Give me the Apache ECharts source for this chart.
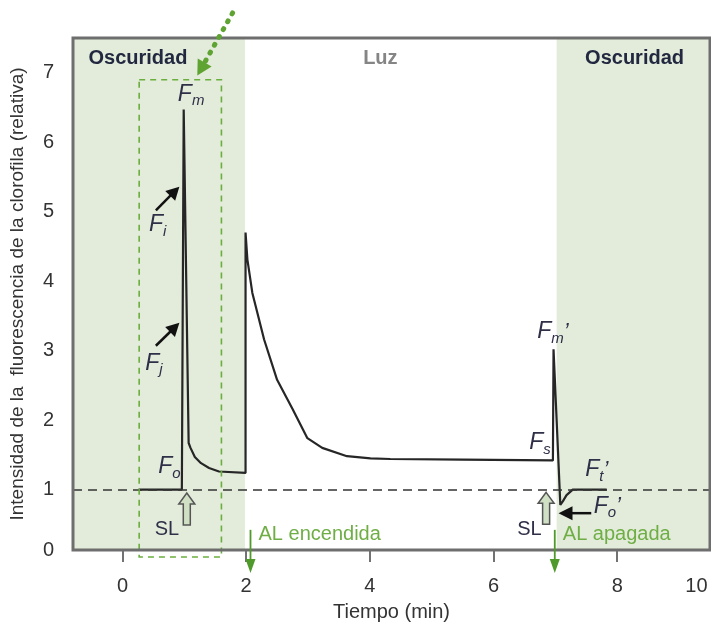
<!DOCTYPE html>
<html>
<head>
<meta charset="utf-8">
<script src="https://cdn.jsdelivr.net/npm/echarts@6/dist/echarts.min.js"></script>
<style>
  html, body { margin: 0; padding: 0; background: #fff; }
  #chart { width: 711px; height: 634px; }
</style>
</head>
<body>
<div id="chart"></div>
<script>
// curva de fluorescencia
const time = [0.26, 0.96, 0.99, 1.07, 1.10, 1.17, 1.27, 1.40, 1.56, 1.99, 1.99, 2.02, 2.10, 2.29, 2.50, 2.75, 2.99, 3.23, 3.63, 4.01, 4.33, 5.50, 6.96, 6.97, 7.08, 7.12, 7.18, 7.28, 7.34, 7.83];
const fluor = [1.0, 1.0, 6.47, 1.67, 1.60, 1.47, 1.38, 1.31, 1.26, 1.24, 4.70, 4.31, 3.83, 3.16, 2.58, 2.16, 1.74, 1.60, 1.48, 1.45, 1.44, 1.43, 1.42, 3.02, 0.78, 0.83, 0.92, 1.0, 1.0, 1.0];

// fases oscuridad / luz
const phaseName = ['Oscuridad', 'Luz', 'Oscuridad'];
const phaseStart = [-0.8, 1.98, 7.02];
const phaseEnd = [1.98, 7.02, 9.5];

const xTicks = [0, 2, 4, 6, 8];
const yTicks = [1, 2, 3, 4, 5, 6, 7];
const xMin = -0.8, xMax = 9.5, yMin = 0.13, yMax = 7.5;

const FONT = '"Liberation Sans", Arial, sans-serif';
const shade = '#e3ecdb';
const green = '#6aae3e';
const ink = '#2f2f48';

const chart = echarts.init(document.getElementById('chart'));

const areas = [];
phaseName.forEach((n, i) => {
  if (n === 'Oscuridad') areas.push([{ xAxis: phaseStart[i] }, { xAxis: phaseEnd[i] }]);
});

chart.setOption({
  animation: false,
  backgroundColor: '#fff',
  textStyle: { fontFamily: FONT },
  grid: { left: 72, right: 1, top: 38, bottom: 84 },
  xAxis: {
    type: 'value', min: xMin, max: xMax,
    name: 'Tiempo (min)', nameLocation: 'middle', nameGap: 52,
    nameTextStyle: { fontSize: 20, color: '#333' },
    axisLine: { show: false },
    axisTick: { show: true, customValues: xTicks, length: 12, lineStyle: { color: '#444', width: 1.5 } },
    axisLabel: { customValues: xTicks, fontSize: 20, color: '#333', margin: 26 },
    splitLine: { show: false }
  },
  yAxis: {
    type: 'value', min: yMin, max: yMax,
    name: 'Intensidad de la  fluorescencia de la clorofila (relativa)',
    nameLocation: 'middle', nameGap: 46,
    nameTextStyle: { fontSize: 19, color: '#333' },
    axisLine: { show: false },
    axisTick: { show: true, customValues: yTicks, length: 15, lineStyle: { color: '#444', width: 1.5 } },
    axisLabel: { customValues: [yMin].concat(yTicks), formatter: v => Math.round(v), fontSize: 20, color: '#333', margin: 19 },
    splitLine: { show: false }
  },
  series: [{
    type: 'line',
    data: time.map((t, i) => [t, fluor[i]]),
    symbol: 'none',
    lineStyle: { color: '#262626', width: 2.2 },
    z: 3,
    markArea: { silent: true, itemStyle: { color: shade }, data: areas },
    markLine: {
      silent: true, symbol: 'none', label: { show: false },
      lineStyle: { color: '#333', width: 1.5, type: [9, 6] },
      data: [{ yAxis: 1 }]
    }
  }]
});

// anotaciones en coordenadas de datos
const px = (x, y) => chart.convertToPixel({ gridIndex: 0 }, [x, y]);
const g = [];

function arrow(a, b, color, w, hl, hw, dash) {
  const [x1, y1] = px(a[0], a[1]);
  const [x2, y2] = px(b[0], b[1]);
  const dx = x2 - x1, dy = y2 - y1, L = Math.hypot(dx, dy);
  const ux = dx / L, uy = dy / L;
  const bx = x2 - ux * hl, by = y2 - uy * hl;
  g.push({ type: 'line', z: 20, shape: { x1, y1, x2: bx + ux * 2, y2: by + uy * 2 },
    style: { stroke: color, lineWidth: w, lineDash: dash || null, lineCap: dash ? 'round' : 'butt' } });
  g.push({ type: 'polygon', z: 20, shape: { points: [[x2, y2], [bx - uy * hw, by + ux * hw], [bx + uy * hw, by - ux * hw]] },
    style: { fill: color } });
}

function label(x, y, rich, align) {
  const [X, Y] = px(x, y);
  g.push({ type: 'text', z: 20, x: X, y: Y, style: Object.assign({ align: align || 'center', verticalAlign: 'middle' }, rich) });
}

function fLabel(x, y, sub, prime) {
  label(x, y, {
    text: '{f|F}{s|' + sub + '}' + (prime ? '{p|\u2019}' : ''),
    rich: {
      f: { fontSize: 23, fontStyle: 'italic', fill: ink, fontFamily: FONT },
      s: { fontSize: 15, fontStyle: 'italic', fill: ink, fontFamily: FONT, padding: [14, 0, 0, 0] },
      p: { fontSize: 22, fontStyle: 'italic', fill: ink, fontFamily: FONT }
    }
  });
}

function slArrow(x, y) {
  const [X, Y] = px(x, y);
  const pts = [[0, -16], [8, -5], [3.5, -5], [3.5, 16], [-3.5, 16], [-3.5, -5], [-8, -5]].map(p => [X + p[0], Y + p[1]]);
  g.push({ type: 'polygon', z: 20, shape: { points: pts }, style: { fill: '#cfe0c4', stroke: '#555', lineWidth: 1.5 } });
}

// marco del gráfico
{
  const [ax, ay] = px(xMin, yMax);
  const [bx, by] = px(xMax, yMin);
  g.push({ type: 'rect', z: 18, shape: { x: ax, y: ay, width: bx - ax, height: by - ay },
    style: { fill: null, stroke: '#6e6e6e', lineWidth: 3 } });
}

// títulos de fase
phaseName.forEach((n, i) => {
  const mid = n === 'Luz' ? 4.17 : (i === 0 ? 0.25 : 8.28);
  label(mid, 7.2, { text: n, fontSize: 20, fontWeight: 'bold', fill: n === 'Luz' ? '#858585' : '#22283f', fontFamily: FONT });
});

// rectángulo verde discontinuo y flecha punteada
{
  const [ax, ay] = px(0.27, 6.9);
  const [bx, by] = px(1.60, 0.03);
  g.push({ type: 'rect', z: 15, shape: { x: ax, y: ay, width: bx - ax, height: by - ay },
    style: { fill: null, stroke: green, lineWidth: 1.6, lineDash: [6, 5] } });
}
arrow([1.78, 7.86], [1.21, 6.96], '#5fa332', 5, 15, 8, [1, 8]);

// etiquetas F
fLabel(1.11, 6.69, 'm');
fLabel(0.57, 4.81, 'i');
fLabel(0.51, 2.82, 'j');
fLabel(0.76, 1.33, 'o');
fLabel(6.75, 1.67, 's');
fLabel(6.96, 3.27, 'm', true);
fLabel(7.67, 1.28, 't', true);
fLabel(7.84, 0.76, 'o', true);

// flechas negras
arrow([0.54, 5.02], [0.92, 5.36], '#111', 2.5, 13, 7);
arrow([0.54, 3.07], [0.92, 3.40], '#111', 2.5, 13, 7);
arrow([7.58, 0.66], [7.05, 0.66], '#111', 2.5, 14, 7);

// SL
slArrow(1.04, 0.72);
slArrow(6.85, 0.73);
label(0.72, 0.42, { text: 'SL', fontSize: 20, fill: ink, fontFamily: FONT });
label(6.58, 0.42, { text: 'SL', fontSize: 20, fill: ink, fontFamily: FONT });

// luz actínica
arrow([2.07, 0.42], [2.07, -0.2], '#4f9a2a', 1.8, 14, 5);
arrow([6.99, 0.42], [6.99, -0.2], '#4f9a2a', 1.8, 14, 5);
label(2.2, 0.35, { text: 'AL encendida', fontSize: 20, fill: '#6fae45', fontFamily: FONT }, 'left');
label(7.12, 0.35, { text: 'AL apagada', fontSize: 20, fill: '#6fae45', fontFamily: FONT }, 'left');

// etiqueta "10" del eje x
{
  const [X, Y] = px(9.28, yMin);
  g.push({ type: 'text', z: 20, x: X, y: Y + 26, style: { text: '10', fontSize: 20, fill: '#333', align: 'center', verticalAlign: 'top', fontFamily: FONT } });
}

chart.setOption({ graphic: g });
window.addEventListener('resize', () => chart.resize());
</script>
</body>
</html>
